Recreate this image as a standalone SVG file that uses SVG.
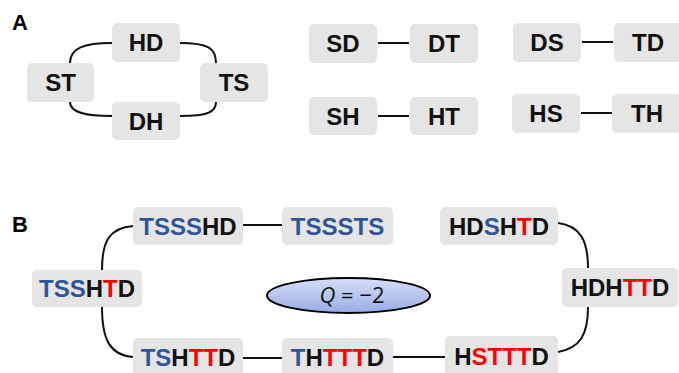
<svg xmlns="http://www.w3.org/2000/svg" width="679" height="373" viewBox="0 0 679 373">
<style>
.box{fill:#e5e5e5}
.t{font-family:"Liberation Sans",Arial,sans-serif;font-weight:bold;font-size:24px;fill:#111;text-anchor:middle}
.lbl{font-family:"Liberation Sans",Arial,sans-serif;font-weight:bold;font-size:22px;fill:#000}
.b{fill:#2f5597}
.r{fill:#ff0000}
.k{fill:#111}
.c{fill:none;stroke:#111;stroke-width:2}
</style>
<defs>
<linearGradient id="eg" x1="0" y1="0" x2="0" y2="1">
<stop offset="0" stop-color="#d6dff7"/>
<stop offset="1" stop-color="#98ace4"/>
</linearGradient>
</defs>
<rect width="679" height="373" fill="#fff"/>
<text class="lbl" x="12" y="30">A</text>
<text class="lbl" x="12" y="232">B</text>
<g id="connectors">
<path class="c" d="M70,63 C70,48 84,43 112,43"/>
<path class="c" d="M180,43 C208,43 216,48 216,63"/>
<path class="c" d="M70,102 C70,112 84,116 112,116"/>
<path class="c" d="M180,116 C208,116 216,112 216,102"/>
<path class="c" d="M378,43 H409"/>
<path class="c" d="M582,42 H613"/>
<path class="c" d="M378,116 H409"/>
<path class="c" d="M581,113 H612"/>
<path class="c" d="M133,226 C110,228 102,240 102,270"/>
<path class="c" d="M133,357 C110,355 102,340 102,307"/>
<path class="c" d="M243,225 H282"/>
<path class="c" d="M558,223 C580,226 588,240 588,268"/>
<path class="c" d="M558,352 C580,348 588,335 588,307"/>
<path class="c" d="M243,358 H282"/>
<path class="c" d="M393,357 H445"/>
</g>
<g id="HD"><rect class="box" x="112" y="23" width="68" height="39" rx="5"/><text class="t" x="146" y="51">HD</text></g>
<g id="ST"><rect class="box" x="27" y="63" width="67" height="39" rx="5"/><text class="t" x="60.5" y="91">ST</text></g>
<g id="TS"><rect class="box" x="200" y="63" width="68" height="39" rx="5"/><text class="t" x="234" y="91">TS</text></g>
<g id="DH"><rect class="box" x="112" y="102" width="68" height="38" rx="5"/><text class="t" x="146" y="130">DH</text></g>
<g id="SD"><rect class="box" x="309" y="24" width="68" height="39" rx="5"/><text class="t" x="343" y="52">SD</text></g>
<g id="DT"><rect class="box" x="410" y="24" width="68" height="39" rx="5"/><text class="t" x="444" y="52">DT</text></g>
<g id="DS"><rect class="box" x="513" y="23" width="68" height="39" rx="5"/><text class="t" x="547" y="51">DS</text></g>
<g id="TD"><rect class="box" x="614" y="23" width="68" height="39" rx="5"/><text class="t" x="648" y="51">TD</text></g>
<g id="SH"><rect class="box" x="309" y="97" width="68" height="38" rx="5"/><text class="t" x="343" y="125">SH</text></g>
<g id="HT"><rect class="box" x="410" y="97" width="68" height="38" rx="5"/><text class="t" x="444" y="125">HT</text></g>
<g id="HS"><rect class="box" x="512" y="94" width="68" height="39" rx="5"/><text class="t" x="546" y="122">HS</text></g>
<g id="TH"><rect class="box" x="612" y="94" width="70" height="39" rx="5"/><text class="t" x="647" y="122">TH</text></g>
<g id="TSSSHD"><rect class="box" x="133" y="207" width="110" height="38" rx="5"/><text class="t" x="188" y="234.5"><tspan class="b">TSSS</tspan><tspan class="k">HD</tspan></text></g>
<g id="TSSSTS"><rect class="box" x="282" y="207" width="111" height="38" rx="5"/><text class="t" x="337.5" y="234.5"><tspan class="b">TSSSTS</tspan></text></g>
<g id="TSSHTD"><rect class="box" x="32" y="270" width="110" height="37" rx="5"/><text class="t" x="87" y="297"><tspan class="b">TSS</tspan><tspan class="k">H</tspan><tspan class="r">T</tspan><tspan class="k">D</tspan></text></g>
<g id="HDSHTD"><rect class="box" x="440" y="207" width="118" height="38" rx="5"/><text class="t" x="499" y="234.5"><tspan class="k">HD</tspan><tspan class="b">S</tspan><tspan class="k">H</tspan><tspan class="r">T</tspan><tspan class="k">D</tspan></text></g>
<g id="HDHTTD"><rect class="box" x="562" y="268" width="116" height="39" rx="5"/><text class="t" x="620" y="296"><tspan class="k">HDH</tspan><tspan class="r">TT</tspan><tspan class="k">D</tspan></text></g>
<g id="TSHTTD"><rect class="box" x="133" y="338" width="110" height="40" rx="5"/><text class="t" x="188" y="365.5"><tspan class="b">TS</tspan><tspan class="k">H</tspan><tspan class="r">TT</tspan><tspan class="k">D</tspan></text></g>
<g id="THTTTD"><rect class="box" x="282" y="338" width="111" height="40" rx="5"/><text class="t" x="337.5" y="365.5"><tspan class="b">T</tspan><tspan class="k">H</tspan><tspan class="r">TTT</tspan><tspan class="k">D</tspan></text></g>
<g id="HSTTTD"><rect class="box" x="445" y="336" width="113" height="42" rx="5"/><text class="t" x="501.5" y="364.5"><tspan class="k">H</tspan><tspan class="r">STTT</tspan><tspan class="k">D</tspan></text></g>
<g id="Q">
<ellipse cx="348.5" cy="295.5" rx="81.5" ry="17.5" fill="url(#eg)" stroke="#000" stroke-width="2"/>
<text x="352" y="303" font-family="'Open Sans','Liberation Sans',sans-serif" font-size="22" fill="#111" text-anchor="middle"><tspan font-style="italic">Q</tspan> = −2</text>
</g>
</svg>
